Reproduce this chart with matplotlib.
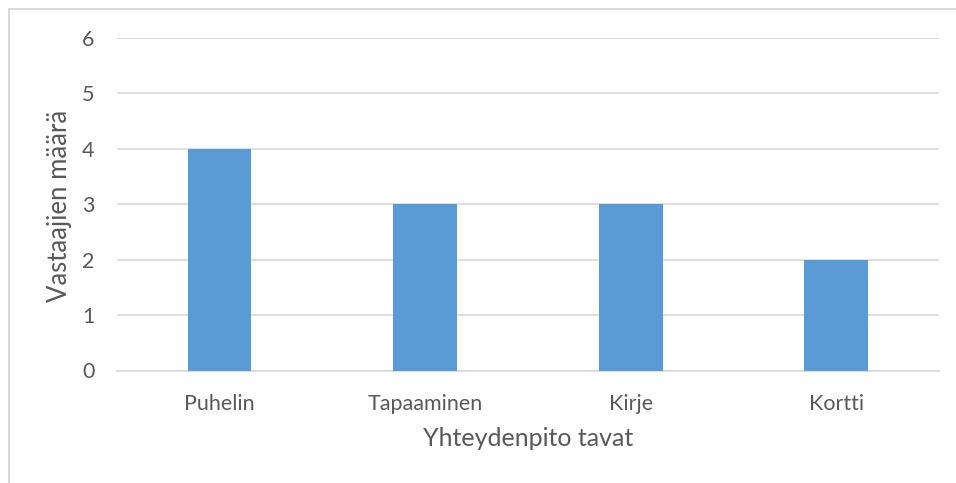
import matplotlib
matplotlib.use("Agg")
import matplotlib.pyplot as plt
from matplotlib.patches import Rectangle

categories = ["Puhelin", "Tapaaminen", "Kirje", "Kortti"]
values = [4, 3, 3, 2]
yticks = [0, 1, 2, 3, 4, 5, 6]

plt.rcParams['font.family'] = ['Lato', 'DejaVu Sans']
W, H = 956, 483
TXT = "#595959"
fig = plt.figure(figsize=(W/100, H/100), dpi=100)
ax = fig.add_axes([116.7/W, 1-370.5/H, (939-116.7)/W, (370.5-37.7)/H])

x = range(len(categories))
ax.bar(x, values, width=0.31, color="#5b9bd5", zorder=3)
ax.set_xlim(-0.5, len(categories)-0.5)
ax.set_ylim(0, 6)
ax.set_yticks(yticks)
ax.set_xticks(list(x))
ax.set_xticklabels(categories)
ax.grid(axis='y', color="#d9d9d9", linewidth=1.2, zorder=0)
for s in ['top', 'right', 'left']:
    ax.spines[s].set_visible(False)
ax.spines['bottom'].set_color("#d9d9d9")
ax.spines['bottom'].set_linewidth(1.2)
ax.tick_params(axis='both', length=0, labelsize=15.5, labelcolor=TXT)
ax.tick_params(axis='y', pad=16)
ax.tick_params(axis='x', pad=17)

fig.text(528/W, 1-438/H, "Yhteydenpito tavat", fontsize=18, color=TXT,
         ha='center', va='center')
fig.text(60/W, 1-206/H, "Vastaajien määrä", fontsize=18.5, color=TXT,
         ha='center', va='center', rotation=90)

# outer chart border (left and top visible)
fig.add_artist(Rectangle((8.5/W, -0.1), 1.2, 1 - 9/H + 0.1, transform=fig.transFigure,
                         fill=False, edgecolor="#d9d9d9", linewidth=1.5))

fig.savefig("out.png", dpi=100)
